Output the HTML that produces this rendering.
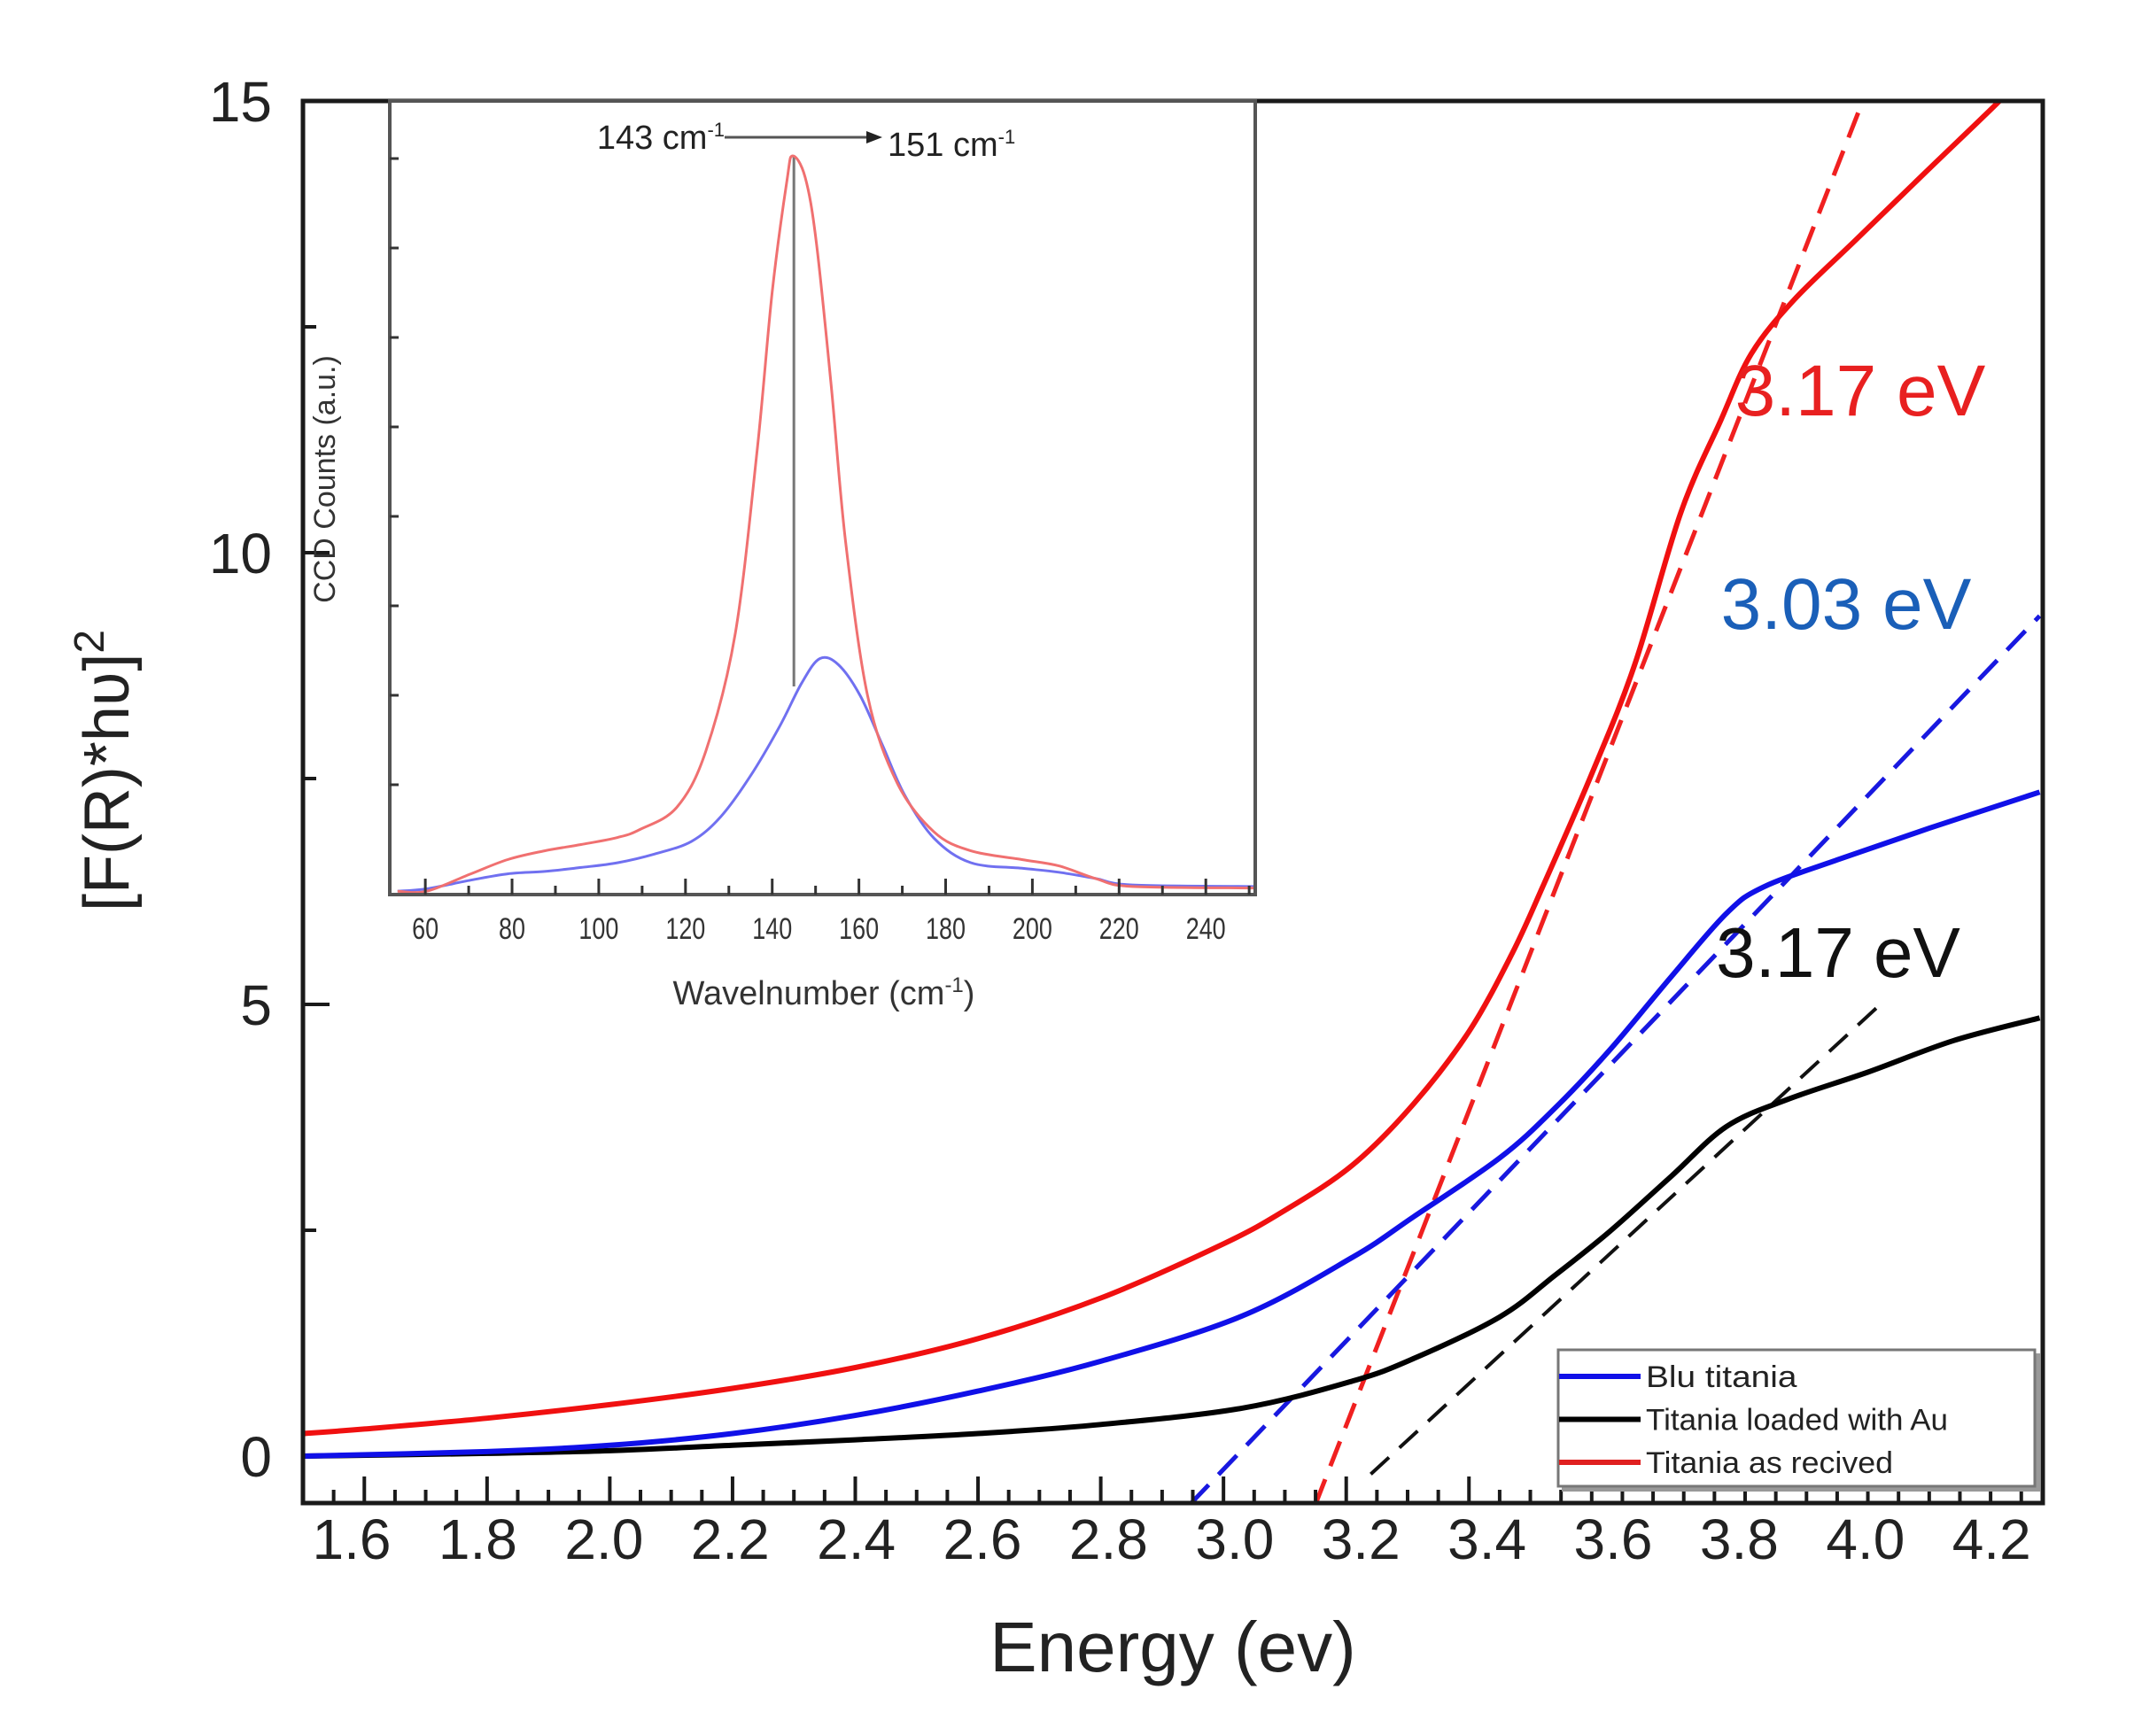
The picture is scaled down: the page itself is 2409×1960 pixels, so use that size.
<!DOCTYPE html>
<html><head><meta charset="utf-8"><style>
html,body{margin:0;padding:0;background:#fff;}
svg{display:block;font-family:"Liberation Sans",sans-serif;}
</style></head><body>
<svg id="chart" width="2409" height="1960" viewBox="0 0 2409 1960" xmlns="http://www.w3.org/2000/svg">
<rect x="0" y="0" width="2409" height="1960" fill="#fff"/>
<g id="main"></g>
<g id="inset"></g>
</svg>
<script>
// ---- main chart data ----
const redX   = [1.5,1.6,1.8,2.0,2.2,2.4,2.6,2.8,3.0,3.1,3.21,3.31,3.40,3.47,3.52,3.6,3.67,3.745,3.81,3.86,3.93,4.03,4.15,4.26,4.33];
const redY   = [0.25,0.3,0.42,0.57,0.75,0.98,1.3,1.75,2.35,2.72,3.22,3.9,4.7,5.56,6.3,7.55,8.76,10.44,11.46,12.2,12.8,13.46,14.25,14.97,15.45];
const blueX  = [1.5,1.8,2.0,2.2,2.4,2.6,2.8,3.03,3.21,3.31,3.45,3.54,3.63,3.73,3.82,3.88,4.0,4.15,4.33];
const blueY  = [0,0.05,0.12,0.25,0.45,0.72,1.05,1.55,2.2,2.65,3.3,3.85,4.5,5.31,6.01,6.3,6.6,6.95,7.35];
const blackX = [1.5,1.8,2.0,2.2,2.4,2.6,2.8,3.03,3.21,3.31,3.45,3.54,3.63,3.73,3.82,3.92,4.05,4.19,4.33];
const blackY = [0,0.03,0.06,0.12,0.18,0.25,0.35,0.53,0.83,1.08,1.54,2.0,2.49,3.1,3.65,3.95,4.25,4.6,4.85];
const redFitX = [3.15,4.04];   const redFitY = [-0.53,14.97];
const blueFitX = [2.946,4.33]; const blueFitY = [-0.53,9.3];
const blackFitX = [3.24,4.08]; const blackFitY = [-0.2,5.06];
const xTicks = [1.6,1.8,2.0,2.2,2.4,2.6,2.8,3.0,3.2,3.4,3.6,3.8,4.0,4.2];
const xTickLabels = ["1.6","1.8","2.0","2.2","2.4","2.6","2.8","3.0","3.2","3.4","3.6","3.8","4.0","4.2"];
const yTicks = [0,5,10,15];
const yTickLabels = ["0","5","10","15"];
// ---- inset data ----
const ramanRedX = [53.6,60.3,70.5,79,87.5,95.9,104.4,109.5,118,124.7,131.5,136.6,140,143.4,144.7,147.6,150.2,153.6,156.9,162,168.8,177.3,185.8,197.6,206.1,214.6,223,251.5];
const ramanRedY = [0.2,0.2,2.4,4.2,5.3,6.1,7.0,8.0,10.8,17.9,32.8,56.3,75.9,90,93.1,90.4,82.1,64.1,44.5,24.9,13.9,7.7,5.3,4.2,3.4,1.8,0.8,0.6];
const ramanBlueX = [53.6,60.3,70.5,79,87.5,95.9,104.4,112.9,121.4,128.1,134.9,141.7,146.8,151,155.3,160.3,165.4,170.5,177.3,185.8,197.6,206.1,214.6,223,251.5];
const ramanBlueY = [0.2,0.5,1.6,2.4,2.7,3.2,3.8,4.9,6.5,9.6,14.7,21,26.5,29.6,28.8,24.9,18.7,12.4,6.9,3.8,3.1,2.6,1.8,1,0.8];
const insetXTicks = [60,80,100,120,140,160,180,200,220,240];
const insetXTickLabels = ["60","80","100","120","140","160","180","200","220","240"];

const NS = "http://www.w3.org/2000/svg";
function mk(parent, tag, attrs, text){
  const e = document.createElementNS(NS, tag);
  for (const k in attrs) e.setAttribute(k, attrs[k]);
  if (text !== undefined) e.textContent = text;
  parent.appendChild(e);
  return e;
}
const PL=342, PR=2306, PT=114, PB=1697;
const X0=1.5, X1=4.335;
const xS = v => PL + (v-X0)/(X1-X0)*(PR-PL);
const yS = v => 1644 - v*102;
const labelX = v => 397 + (v-1.6)/0.2*142.4;

const main = document.getElementById('main');
const defs = mk(main,'defs',{});
const cp = mk(defs,'clipPath',{id:'plotclip'});
mk(cp,'rect',{x:PL,y:PT,width:PR-PL,height:PB-PT});

const curves = mk(main,'g',{'clip-path':'url(#plotclip)'});


function linePath(xs, ys, fx, fy){
  return xs.map((x,i)=>(i?'L':'M')+fx(x).toFixed(1)+','+fy(ys[i]).toFixed(1)).join(' ');
}
function smoothPath(xs, ys, fx, fy){
  const p = xs.map((x,i)=>[fx(x),fy(ys[i])]);
  let d = 'M'+p[0][0].toFixed(1)+','+p[0][1].toFixed(1);
  for (let i=0;i<p.length-1;i++){
    const p0=p[Math.max(0,i-1)], p1=p[i], p2=p[i+1], p3=p[Math.min(p.length-1,i+2)];
    const c1=[p1[0]+(p2[0]-p0[0])/6, p1[1]+(p2[1]-p0[1])/6];
    const c2=[p2[0]-(p3[0]-p1[0])/6, p2[1]-(p3[1]-p1[1])/6];
    d += ' C'+c1[0].toFixed(1)+','+c1[1].toFixed(1)+' '+c2[0].toFixed(1)+','+c2[1].toFixed(1)+' '+p2[0].toFixed(1)+','+p2[1].toFixed(1);
  }
  return d;
}
let e;
e = mk(curves,'path',{d:linePath(redFitX,redFitY,xS,yS),stroke:'#f02020',"stroke-width":5,fill:'none',"stroke-dasharray":"30 16"});


e = mk(curves,'path',{d:linePath(blueFitX,blueFitY,xS,yS),stroke:'#1818e0',"stroke-width":5,fill:'none',"stroke-dasharray":"30 16"});


e = mk(curves,'path',{d:linePath(blackFitX,blackFitY,xS,yS),stroke:'#111',"stroke-width":4,fill:'none',"stroke-dasharray":"28 16"});


e = mk(curves,'path',{d:smoothPath(blackX,blackY,xS,yS),stroke:'#000',"stroke-width":6,fill:'none'});


e = mk(curves,'path',{d:smoothPath(blueX,blueY,xS,yS),stroke:'#1010e8',"stroke-width":6,fill:'none'});


e = mk(curves,'path',{d:smoothPath(redX,redY,xS,yS),stroke:'#f01010',"stroke-width":6,fill:'none'});



e = mk(main,'rect',{x:PL,y:PT,width:PR-PL,height:PB-PT,fill:'none',stroke:'#1a1a1a',"stroke-width":5});


const xt = mk(main,'g',{stroke:'#1a1a1a',"stroke-width":4});


for (let v=1.55; v<X1; v+=0.05){
  const major = xTicks.some(t=>Math.abs(t-v)<1e-6);
  const px = xS(v);
  mk(xt,'line',{x1:px,y1:PB,x2:px,y2:PB-(major?30:15)});
}
const xl = mk(main,'g',{"font-size":64,fill:'#222',"text-anchor":'middle'});


xTicks.forEach((v,i)=>{
  const t = mk(xl,'text',{x:labelX(v),y:1760},xTickLabels[i]);
  
  
});
const yt = mk(main,'g',{stroke:'#1a1a1a',"stroke-width":4});


for (let v=2.5; v<15; v+=2.5){
  const major = yTicks.includes(v);
  mk(yt,'line',{x1:PL,y1:yS(v),x2:PL+(major?30:15),y2:yS(v)});
}
const yl = mk(main,'g',{"font-size":64,fill:'#222',"text-anchor":'end'});


yTicks.forEach((v,i)=>{
  const t = mk(yl,'text',{x:307,y:yS(v)+23},yTickLabels[i]);
  
  
});
e = mk(main,'text',{x:1324,y:1887,"font-size":80,fill:'#222',"text-anchor":'middle'},'Energy (ev)');


const yTitle = mk(main,'text',{x:0,y:0,"font-size":72,fill:'#222',"text-anchor":'middle',transform:'translate(145,870) rotate(-90)'});


mk(yTitle,'tspan',{},'[F(R)*h\u028B]');
mk(yTitle,'tspan',{dy:-28,"font-size":48},'2');

e = mk(main,'text',{x:2100,y:469,"font-size":82,fill:'#e82020',"text-anchor":'middle'},'3.17 eV');


e = mk(main,'text',{x:2084,y:710,"font-size":82,fill:'#1a5fb8',"text-anchor":'middle'},'3.03 eV');


e = mk(main,'text',{x:2075,y:1103,"font-size":80,fill:'#111',"text-anchor":'middle'},'3.17 eV');



const lg = mk(main,'g',{});


mk(lg,'rect',{x:1763,y:1528,width:540,height:156,fill:'#999'});
mk(lg,'rect',{x:1759,y:1524,width:538,height:154,fill:'#fff',stroke:'#777',"stroke-width":3});
const legendNames = ['Blu titania','Titania loaded with Au','Titania as recived'];
const legendColors = ['#1010e8','#000','#e02020'];
const legendKeys = ['legend-entry-blu-titania','legend-entry-titania-au','legend-entry-titania-received'];
legendNames.forEach((n,i)=>{
  const y = 1554 + i*48.5;
  const g = mk(lg,'g',{});
  
  
  mk(g,'line',{x1:1760,y1:y,x2:1852,y2:y,stroke:legendColors[i],"stroke-width":6});
  mk(g,'text',{x:1858,y:y+12,"font-size":34,fill:'#222',textLength:n.length*15.5,lengthAdjust:'spacingAndGlyphs'},n);
});

const IL=440, IR=1417, IT=114, IB=1010;
const IX0=51.8, IX1=251.4;
const ixS = v => IL + (v-IX0)/(IX1-IX0)*(IR-IL);
const iyS = v => 1008 - v*(1008-176)/93.1;
const inset = document.getElementById('inset');


mk(inset,'rect',{x:IL,y:IT,width:IR-IL,height:IB-IT,fill:'#fff'});
e = mk(inset,'line',{x1:ixS(145),y1:iyS(93),x2:ixS(145),y2:775,stroke:'#777',"stroke-width":3});


e = mk(inset,'path',{d:smoothPath(ramanBlueX,ramanBlueY,ixS,iyS),stroke:'#7070f0',"stroke-width":3,fill:'none'});


e = mk(inset,'path',{d:smoothPath(ramanRedX,ramanRedY,ixS,iyS),stroke:'#f07070',"stroke-width":3,fill:'none'});


e = mk(inset,'rect',{x:IL,y:IT,width:IR-IL,height:IB-IT,fill:'none',stroke:'#555',"stroke-width":4});


const ixt = mk(inset,'g',{stroke:'#333',"stroke-width":3});


for (let v=60; v<=250; v+=10){
  const major = insetXTicks.includes(v);
  mk(ixt,'line',{x1:ixS(v),y1:IB,x2:ixS(v),y2:IB-(major?18:10)});
}
for (let k=0;k<8;k++){
  const yy = IB - 124 - k*101;
  mk(ixt,'line',{x1:IL,y1:yy,x2:IL+10,y2:yy});
}
const ixl = mk(inset,'g',{"font-size":34,fill:'#333',"text-anchor":'middle'});


insetXTicks.forEach((v,i)=>{
  const t = mk(ixl,'text',{x:ixS(v),y:1060,textLength:insetXTickLabels[i].length*15,lengthAdjust:'spacingAndGlyphs'},insetXTickLabels[i]);
  
  
});
const ixTitle = mk(inset,'text',{x:930,y:1134,"font-size":38,fill:'#333',"text-anchor":'middle'});


mk(ixTitle,'tspan',{},'Wavelnumber (cm');
mk(ixTitle,'tspan',{dy:-14,"font-size":24},'-1');
mk(ixTitle,'tspan',{dy:14},')');
const iyTitle = mk(inset,'text',{x:0,y:0,"font-size":34,fill:'#333',"text-anchor":'middle',transform:'translate(378,541) rotate(-90)'},'CCD Counts (a.u.)');


e = mk(inset,'line',{x1:818,y1:155,x2:980,y2:155,stroke:'#555',"stroke-width":3});


mk(inset,'polygon',{points:'996,155 978,148 978,162',fill:'#222'});
const t143 = mk(inset,'text',{x:818,y:168,"font-size":38,fill:'#222',"text-anchor":'end'});


mk(t143,'tspan',{},'143 cm');
mk(t143,'tspan',{dy:-14,"font-size":22},'-1');
const t151 = mk(inset,'text',{x:1002,y:176,"font-size":38,fill:'#222'});


mk(t151,'tspan',{},'151 cm');
mk(t151,'tspan',{dy:-14,"font-size":22},'-1');
</script>
</body></html>
